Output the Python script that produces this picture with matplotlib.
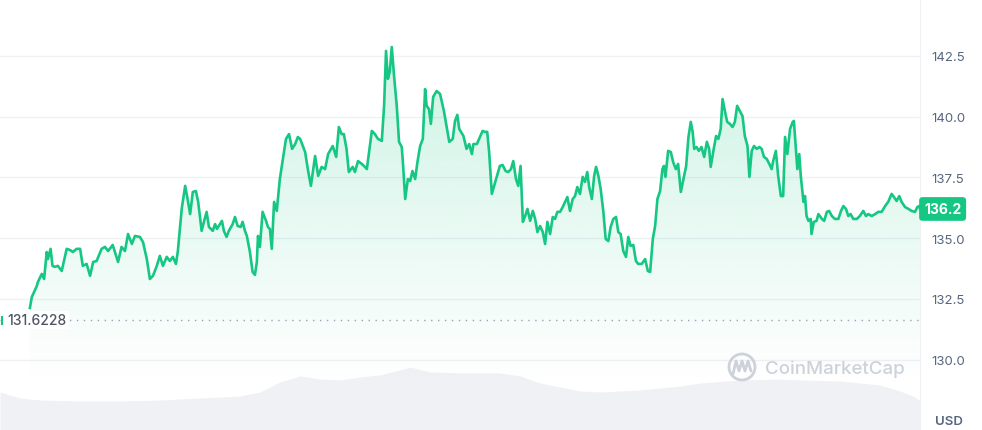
import numpy as np
import matplotlib
matplotlib.use("Agg")
import matplotlib.pyplot as plt
from matplotlib.patches import PathPatch, Circle
from matplotlib.transforms import blended_transform_factory

plt.rcParams['font.family'] = ['Inter', 'DejaVu Sans']

# price over the last 24 h (hours from start, USD)
hours = [0.78, 0.83, 0.89, 0.96, 0.99, 1.09, 1.15, 1.22, 1.25, 1.32, 1.37, 1.43, 1.51, 1.61,
         1.74, 1.83, 1.90, 2.00, 2.09, 2.16, 2.26, 2.35, 2.43, 2.52, 2.65, 2.74, 2.82, 2.94, 3.08,
         3.17, 3.26, 3.34, 3.44, 3.52, 3.65, 3.73, 3.83, 3.91, 3.99, 4.09, 4.17, 4.25, 4.35, 4.43,
         4.51, 4.59, 4.64, 4.74, 4.83, 4.88, 4.96, 5.03, 5.11, 5.17, 5.26, 5.32, 5.39, 5.45, 5.55,
         5.61, 5.66, 5.74, 5.79, 5.84, 5.91, 5.97, 6.07, 6.13, 6.20, 6.28, 6.33, 6.39, 6.44, 6.52,
         6.59, 6.65, 6.70, 6.73, 6.78, 6.85, 6.94, 6.99, 7.04, 7.09, 7.15, 7.22, 7.30, 7.36, 7.46,
         7.54, 7.62, 7.70, 7.77, 7.83, 7.96, 8.03, 8.11, 8.16, 8.22, 8.30, 8.39, 8.48, 8.56, 8.68,
         8.77, 8.84, 8.91, 8.97, 9.04, 9.10, 9.20, 9.26, 9.34, 9.44, 9.52, 9.57, 9.70, 9.78, 9.86,
         9.96, 10.02, 10.07, 10.12, 10.17, 10.22, 10.28, 10.35, 10.41, 10.48, 10.51, 10.57, 10.64,
         10.70, 10.76, 10.83, 10.89, 10.96, 11.03, 11.09, 11.13, 11.19, 11.24, 11.30, 11.39, 11.48,
         11.58, 11.63, 11.72, 11.81, 11.87, 11.93, 11.98, 12.09, 12.17, 12.24, 12.31, 12.35, 12.44,
         12.52, 12.59, 12.65, 12.71, 12.76, 12.83, 12.89, 12.96, 13.04, 13.11, 13.19, 13.26, 13.33,
         13.39, 13.46, 13.52, 13.58, 13.64, 13.70, 13.76, 13.83, 13.90, 13.96, 14.02, 14.09, 14.16,
         14.22, 14.28, 14.35, 14.42, 14.48, 14.54, 14.61, 14.68, 14.74, 14.80, 14.87, 14.94, 15.00,
         15.06, 15.13, 15.20, 15.26, 15.32, 15.37, 15.44, 15.50, 15.55, 15.61, 15.67, 15.74, 15.80,
         15.87, 15.93, 16.00, 16.07, 16.13, 16.19, 16.26, 16.33, 16.39, 16.45, 16.52, 16.59, 16.65,
         16.74, 16.83, 16.90, 16.96, 17.03, 17.09, 17.15, 17.22, 17.28, 17.32, 17.36, 17.43, 17.50,
         17.56, 17.63, 17.69, 17.76, 17.83, 17.90, 17.96, 18.02, 18.07, 18.11, 18.17, 18.23, 18.30,
         18.37, 18.44, 18.50, 18.54, 18.61, 18.68, 18.74, 18.80, 18.85, 18.91, 18.97, 19.04, 19.11,
         19.17, 19.23, 19.30, 19.37, 19.43, 19.50, 19.55, 19.61, 19.67, 19.74, 19.81, 19.87, 19.93,
         20.00, 20.07, 20.13, 20.17, 20.24, 20.30, 20.37, 20.43, 20.48, 20.54, 20.61, 20.68, 20.71,
         20.77, 20.80, 20.85, 20.89, 20.96, 21.00, 21.04, 21.09, 21.15, 21.17, 21.23, 21.30, 21.35,
         21.44, 21.50, 21.57, 21.63, 21.70, 21.78, 21.87, 21.94, 22.00, 22.07, 22.13, 22.19, 22.26,
         22.35, 22.43, 22.52, 22.59, 22.65, 22.74, 22.83, 22.91, 23.00, 23.09, 23.17, 23.26, 23.32,
         23.39, 23.46, 23.52, 23.61, 23.70, 23.78, 23.87, 23.93, 23.98, 24.00]
price = [132.13, 132.58, 132.79, 133.03, 133.20, 133.53, 133.32, 134.43, 134.14, 134.56,
         133.86, 133.82, 133.86, 133.65, 134.56, 134.51, 134.43, 134.56, 134.56, 133.86, 133.94,
         133.45, 134.02, 134.06, 134.56, 134.64, 134.47, 134.72, 134.02, 134.64, 134.47, 135.17,
         134.76, 135.09, 135.05, 134.84, 134.14, 133.32, 133.45, 133.86, 134.27, 133.86, 134.23,
         134.06, 134.23, 133.94, 134.47, 136.20, 137.15, 136.73, 135.99, 136.90, 136.94, 136.49,
         135.30, 135.67, 136.08, 135.46, 135.30, 135.58, 135.38, 135.58, 135.71, 135.30, 135.05,
         135.30, 135.58, 135.87, 135.50, 135.46, 135.67, 135.30, 135.09, 134.43, 133.61, 133.49,
         134.02, 135.09, 134.64, 136.08, 135.71, 135.46, 135.38, 134.56, 136.49, 136.12, 137.43,
         138.05, 139.08, 139.28, 138.67, 138.87, 139.16, 139.08, 138.54, 137.84, 137.15, 137.72,
         138.38, 137.56, 137.93, 137.84, 138.46, 138.79, 138.34, 139.57, 139.28, 139.28, 138.67,
         137.72, 137.93, 137.72, 138.17, 138.05, 137.93, 137.84, 139.41, 139.28, 139.08, 139.00,
         140.44, 142.70, 141.55, 141.87, 142.86, 141.67, 140.44, 138.96, 138.75, 138.13, 136.61,
         137.43, 137.35, 137.76, 137.43, 138.13, 138.79, 139.08, 141.13, 140.44, 140.31, 139.70,
         140.81, 141.05, 140.93, 140.23, 139.78, 138.96, 139.08, 139.82, 140.07, 139.49, 139.20,
         138.67, 138.87, 138.46, 138.87, 138.87, 139.16, 139.41, 139.37, 139.37, 138.54, 136.82,
         137.15, 137.52, 137.97, 138.01, 137.76, 137.72, 137.84, 138.17, 137.43, 137.15, 137.97,
         135.67, 135.91, 136.20, 135.71, 136.12, 135.79, 135.25, 135.50, 135.25, 134.76, 135.67,
         135.17, 135.87, 135.79, 136.08, 136.08, 136.28, 136.49, 136.69, 136.12, 136.61, 136.73,
         137.10, 136.82, 137.52, 137.31, 137.72, 137.10, 136.61, 137.56, 137.93, 137.56, 137.02,
         136.08, 134.97, 134.88, 135.46, 135.79, 135.87, 135.25, 135.17, 134.47, 134.23, 135.05,
         134.68, 134.72, 134.06, 133.94, 133.94, 134.14, 133.65, 133.61, 134.97, 135.50, 136.61,
         136.94, 137.84, 137.97, 137.52, 138.59, 138.54, 138.13, 137.84, 138.05, 136.90, 137.43,
         137.97, 139.16, 139.78, 139.37, 138.67, 138.75, 138.59, 138.75, 138.34, 138.96, 138.67,
         137.93, 138.59, 139.20, 139.08, 139.49, 140.72, 140.23, 139.78, 139.70, 139.57, 139.78,
         140.44, 140.23, 140.02, 139.20, 138.79, 137.52, 138.59, 138.79, 138.67, 138.75, 138.67,
         138.34, 138.26, 138.05, 137.84, 138.17, 138.59, 137.56, 136.73, 136.73, 139.16, 138.46,
         139.49, 139.78, 139.82, 138.54, 137.84, 138.46, 137.56, 136.49, 136.73, 135.91, 135.71,
         135.79, 135.17, 135.67, 135.71, 135.99, 135.79, 135.71, 136.08, 136.12, 135.91, 135.79,
         135.79, 136.12, 136.32, 136.20, 135.91, 135.99, 135.79, 135.79, 135.91, 136.12, 135.91,
         135.99, 135.91, 135.99, 136.08, 136.08, 136.32, 136.49, 136.82, 136.69, 136.53, 136.73,
         136.49, 136.28, 136.20, 136.12, 136.08, 136.28, 136.32, 136.20]

open_price = 131.6228
last_price = 136.2

# traded volume (relative units) along the same 24 h
vol_hours = [0.00, 0.52, 1.04, 2.09, 3.13, 4.17, 5.22, 6.26, 6.78, 7.30, 7.83, 8.35, 8.87, 9.39,
             9.91, 10.43, 10.70, 11.22, 12.00, 13.04, 13.57, 14.09, 14.61, 15.13, 15.65, 16.70,
             17.74, 18.26, 19.30, 20.35, 20.87, 21.91, 22.96, 23.48, 23.87, 24.00]
volume = [38, 32, 30, 29, 29, 30, 32, 34, 38, 48, 54, 51, 50, 53, 55, 60, 63, 58, 57, 57, 54, 47,
          43, 39, 38, 40, 44, 47, 50, 51, 50, 49, 45, 39, 33, 29]

price_ticks = [130.0, 132.5, 135.0, 137.5, 140.0, 142.5]

green = '#16c784'
label_gray = '#58667e'
grid_col = '#eff1f4'

W, H = 982, 431
fig = plt.figure(figsize=(W / 100, H / 100), dpi=100)
plot_w = 920 / W

# volume strip in the background
axv = fig.add_axes([0, 0, plot_w, 100 / H])
axv.fill_between(vol_hours, volume, 0, color='#f0f1f4', lw=0)
axv.set_xlim(0, 24)
axv.set_ylim(0, 100)
axv.axis('off')

ax = fig.add_axes([0, 0, plot_w, 1])
ax.patch.set_alpha(0)
ymin, ymax = 127.11, 144.835
ax.set_xlim(0, 24)
ax.set_ylim(ymin, ymax)

for t in price_ticks:
    ax.axhline(t, color=grid_col, lw=1, zorder=0)

# gradient fill under the line
fill = ax.fill_between(hours, price, ymin, color='none', lw=0)
clip = PathPatch(fill.get_paths()[0], transform=ax.transData, fc='none', ec='none')
ax.add_patch(clip)
grad = np.zeros((256, 1, 4))
grad[..., 0] = 0x16 / 255
grad[..., 1] = 0xc7 / 255
grad[..., 2] = 0x84 / 255
grad[:, 0, 3] = np.linspace(0.22, 0.0, 256)
img = ax.imshow(grad, extent=[0, 24, 129.0, 143.2], aspect='auto', origin='upper',
                zorder=1, interpolation='bilinear')
img.set_clip_path(clip)

ax.plot(hours, price, color=green, lw=1.9, zorder=3, solid_joinstyle='round')
ax.axhline(open_price, color='#9aa3b3', lw=1, ls=(0, (1, 4)), zorder=2)
ax.plot([0.04, 0.04], [open_price - 0.15, open_price + 0.15], color=green, lw=1.5, zorder=3)

ax.text(0.2, open_price, '131.6228', fontsize=10, color='#4d5566', fontweight='medium',
        va='center', ha='left', zorder=5,
        bbox=dict(boxstyle='square,pad=0.15', fc='white', ec='none'))

# axis styling
for s in ['top', 'left', 'bottom']:
    ax.spines[s].set_visible(False)
ax.spines['right'].set_color(grid_col)
ax.yaxis.tick_right()
ax.set_yticks(price_ticks)
ax.set_yticklabels([f'{t:.1f}' for t in price_ticks])
ax.tick_params(axis='y', length=0, pad=8, labelsize=9.5, labelcolor=label_gray)
ax.set_xticks([])

# current price badge
tr = blended_transform_factory(ax.transAxes, ax.transData)
ax.text(1.0 + 4 / 920, last_price, f'{last_price:.1f}', transform=tr, fontsize=10,
        fontweight='bold', color='white', ha='left', va='center', zorder=6, clip_on=False,
        bbox=dict(boxstyle='round,pad=0.35,rounding_size=0.25', fc=green, ec='none'))

fig.text(935 / W, 1 - 422 / H, 'USD', fontsize=9.5, color=label_gray, fontweight='semibold',
         ha='left', va='center')

# watermark
ov = fig.add_axes([0, 0, 1, 1])
ov.set_xlim(0, W)
ov.set_ylim(H, 0)
ov.axis('off')
ov.patch.set_alpha(0)
wm = '#cdd2da'
ov.add_patch(Circle((742, 368), 13, fc='none', ec=wm, lw=2))
ov.plot([733, 736, 739, 742, 745, 748, 751], [375, 362, 372, 362, 372, 362, 372],
        color=wm, lw=2, solid_capstyle='round', solid_joinstyle='round')
ov.text(765, 369, 'CoinMarketCap', fontsize=13.5, color=wm, ha='left', va='center',
        fontweight='medium')

fig.savefig('out.png', dpi=100)
